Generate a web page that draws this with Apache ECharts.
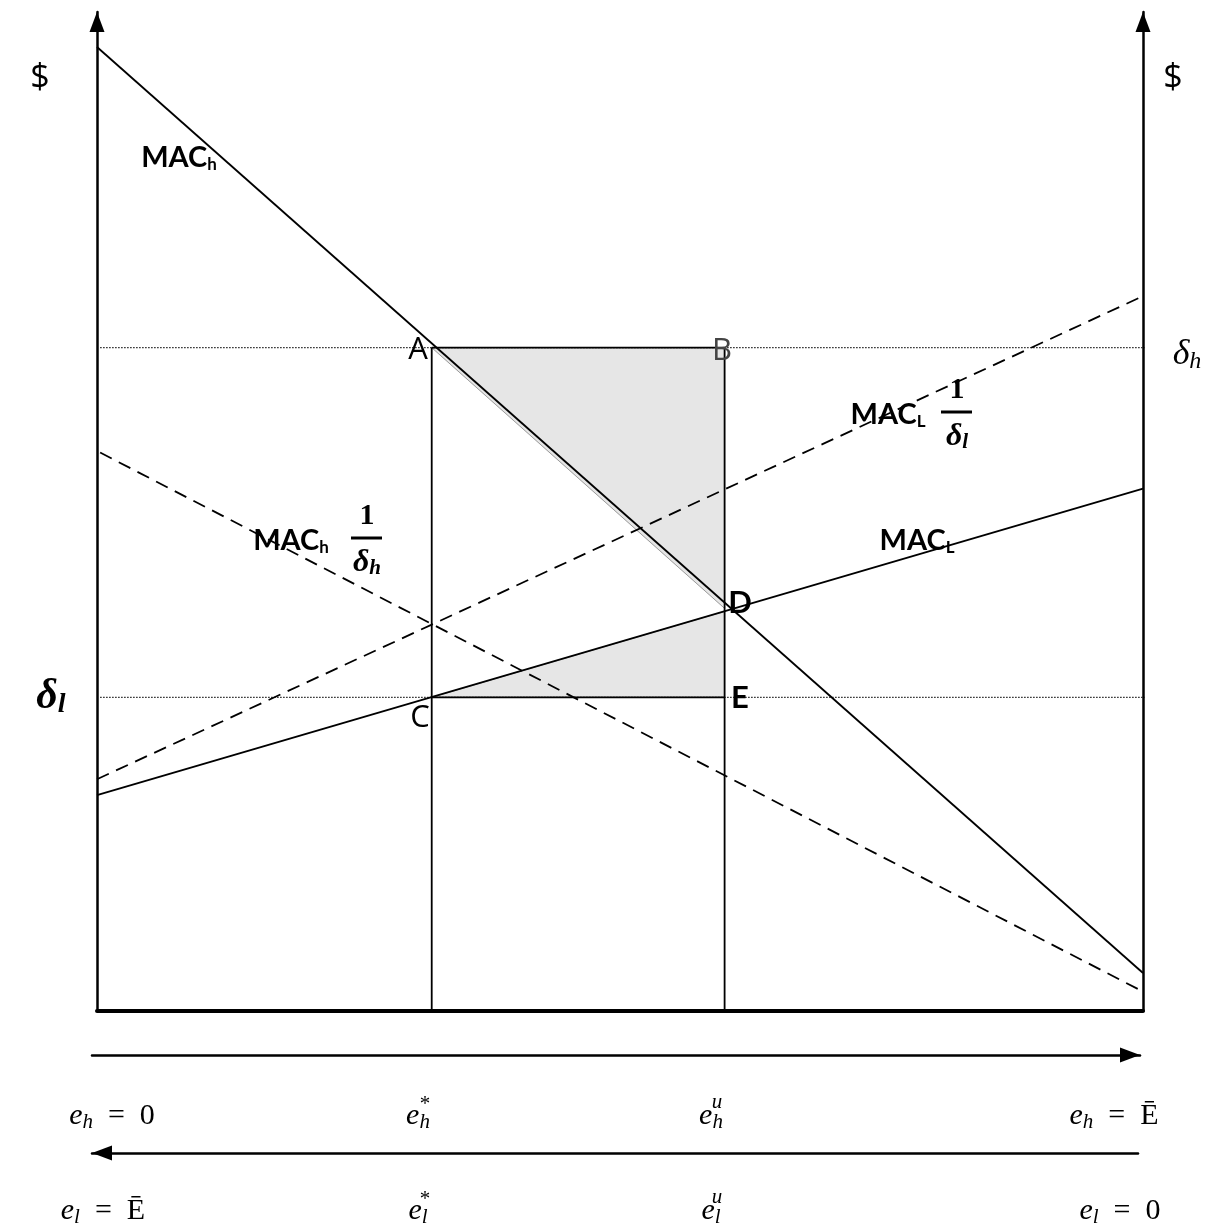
<!DOCTYPE html>
<html>
<head>
<meta charset="utf-8">
<script src="https://cdn.jsdelivr.net/npm/echarts@6/dist/echarts.min.js"></script>
<style>
html, body { margin: 0; padding: 0; background: #fff; }
#container { width: 1211px; height: 1232px; }
</style>
</head>
<body>
<div id="container"></div>
<script>
// positions along e_h axis (0 .. Ebar = 100)
var eStar = 32;
var eU = 60;
var deltaH = 66.4;
var deltaL = 31.4;

// curves, [e_h, $]
var macH = [[0, 96.5], [100, 3.8]];
var macL = [[0, 21.6], [100, 52.3]];
var macLOverDl = [[0, 23.2], [100.7, 71.9]];
var macHOverDh = [[0.3, 55.9], [99.7, 2.1]];

// shaded areas
var shadeABD = [[eStar, deltaH], [eU, deltaH], [eU, 40.3]];
var shadeCDE = [[eStar, deltaL], [eU, 40.0], [eU, deltaL]];
var shades = [shadeABD, shadeCDE];

var dom = document.getElementById('container');
var myChart = echarts.init(dom);

var serif = '"Liberation Serif", "DejaVu Serif", serif';
var sans = 'Lato, "Open Sans", sans-serif';

var mathRich = {
    i: { fontFamily: serif, fontStyle: 'italic', fontSize: 30, fill: '#000' },
    s: { fontFamily: serif, fontStyle: 'italic', fontSize: 21, padding: [13, 0, 0, 0], fill: '#000' },
    t: { fontFamily: serif, fontSize: 30, fill: '#000' }
};
var macRich = {
    m: { fontFamily: sans, fontWeight: 'bold', fontSize: 29, fill: '#000' },
    s: { fontFamily: sans, fontWeight: 'bold', fontSize: 17, padding: [13, 0, 0, 0], fill: '#000' }
};

function rt(x, y, text, rich, align) {
    return {
        type: 'text', z: 100,
        style: { x: x, y: y, text: text, rich: rich, align: align || 'center', verticalAlign: 'middle' }
    };
}
function plain(x, y, text, font, color) {
    return {
        type: 'text', z: 100,
        style: { x: x, y: y, text: text, font: font, fill: color || '#000', align: 'center', verticalAlign: 'middle' }
    };
}
function star(x, y, sup) {
    return plain(x, y, sup, 'italic 21px ' + serif);
}
function bar(x1, x2, y) {
    return { type: 'line', z: 100, shape: { x1: x1, y1: y, x2: x2, y2: y }, style: { stroke: '#000', lineWidth: 3 } };
}

var labelsH = ['{i|e}{s|h}{t|  =  0}', '{i|e}{s|h}', '{i|e}{s|h}', '{i|e}{s|h}{t|  =  Ē}'];
var labelsL = ['{i|e}{s|l}{t|  =  Ē}', '{i|e}{s|l}', '{i|e}{s|l}', '{i|e}{s|l}{t|  =  0}'];

var graphics = [
    plain(40, 78, '$', '34px "Open Sans", sans-serif'),
    plain(1173, 78, '$', '34px "Open Sans", sans-serif'),
    rt(179, 158, '{m|MAC}{s|h}', macRich),
    rt(888, 415, '{m|MAC}{s|L}', macRich),
    plain(957, 390, '1', 'bold 30px ' + serif),
    bar(941, 972, 412),
    rt(957, 437, '{d|δ}{s|l}', { d: { fontFamily: serif, fontStyle: 'italic', fontWeight: 'bold', fontSize: 32 }, s: { fontFamily: serif, fontStyle: 'italic', fontWeight: 'bold', fontSize: 21, padding: [12, 0, 0, 0] } }),
    rt(291, 541, '{m|MAC}{s|h}', macRich),
    plain(367, 516, '1', 'bold 30px ' + serif),
    bar(351, 382, 538),
    rt(367, 563, '{d|δ}{s|h}', { d: { fontFamily: serif, fontStyle: 'italic', fontWeight: 'bold', fontSize: 32 }, s: { fontFamily: serif, fontStyle: 'italic', fontWeight: 'bold', fontSize: 21, padding: [12, 0, 0, 0] } }),
    rt(917, 541, '{m|MAC}{s|L}', macRich),
    rt(1187, 355, '{d|δ}{s|h}', { d: { fontFamily: serif, fontStyle: 'italic', fontSize: 36 }, s: { fontFamily: serif, fontStyle: 'italic', fontSize: 24, padding: [13, 0, 0, 0] } }),
    rt(51, 697, '{d|δ}{s|l}', { d: { fontFamily: serif, fontStyle: 'italic', fontWeight: 'bold', fontSize: 42 }, s: { fontFamily: serif, fontStyle: 'italic', fontWeight: 'bold', fontSize: 28, padding: [15, 0, 0, 0] } }),
    plain(418, 350, 'A', '31px "Open Sans", sans-serif'),
    plain(722, 351, 'B', '31px "Open Sans", sans-serif', '#444'),
    plain(420, 718, 'C', '31px "Open Sans", sans-serif'),
    plain(740, 603, 'D', 'bold 31px ' + sans),
    plain(740, 698, 'E', 'bold 31px ' + sans),
    rt(112, 1116, labelsH[0], mathRich),
    rt(418, 1116, labelsH[1], mathRich),
    star(424, 1104, '*'),
    rt(711, 1116, labelsH[2], mathRich),
    star(717, 1102, 'u'),
    rt(1114, 1116, labelsH[3], mathRich),
    rt(103, 1211, labelsL[0], mathRich),
    rt(418, 1211, labelsL[1], mathRich),
    star(424, 1199, '*'),
    rt(711, 1211, labelsL[2], mathRich),
    star(717, 1197, 'u'),
    rt(1120, 1211, labelsL[3], mathRich)
];

function lineSeries(data, type) {
    var s = {
        type: 'line', data: data, symbol: 'none', clip: false, silent: true,
        lineStyle: { color: '#000', width: 1.8, type: 'solid' }
    };
    if (type === 'dashed') s.lineStyle.type = [13, 8];
    if (type === 'dotted') { s.lineStyle.type = [1.5, 1.5]; s.lineStyle.width = 1.3; s.lineStyle.color = '#222'; }
    return s;
}

function arrowLine(sym, offset, width) {
    return {
        show: true,
        onZero: false,
        symbol: sym,
        symbolSize: [15, 20],
        symbolOffset: offset,
        lineStyle: { color: '#000', width: width }
    };
}

var hidden = { axisTick: { show: false }, axisLabel: { show: false }, splitLine: { show: false } };

option = {
    backgroundColor: '#fff',
    animation: false,
    grid: [
        { left: 97, top: 12, width: 1046, height: 999 },
        { left: 92, top: 1055, width: 1048, height: 0 },
        { left: 92, top: 1153, width: 1046, height: 0 }
    ],
    xAxis: [
        Object.assign({
            gridIndex: 0, type: 'value', min: 0, max: 100,
            axisLine: { show: true, onZero: false, lineStyle: { color: '#000', width: 4 } }
        }, hidden),
        Object.assign({
            gridIndex: 1, type: 'value', min: 0, max: 100,
            axisLine: arrowLine(['none', 'triangle'], [0, -10], 2.5)
        }, hidden),
        Object.assign({
            gridIndex: 2, type: 'value', min: 0, max: 100,
            axisLine: arrowLine(['triangle', 'none'], [10, 0], 2.5)
        }, hidden)
    ],
    yAxis: [
        Object.assign({
            gridIndex: 0, type: 'value', min: 0, max: 100, position: 'left',
            axisLine: arrowLine(['none', 'triangle'], [0, -10], 2.5)
        }, hidden),
        Object.assign({
            gridIndex: 0, type: 'value', min: 0, max: 100, position: 'right',
            axisLine: arrowLine(['none', 'triangle'], [0, -10], 2.5)
        }, hidden),
        { gridIndex: 1, show: false },
        { gridIndex: 2, show: false }
    ],
    graphic: graphics,
    series: [
        {
            type: 'custom', z: 1, silent: true,
            data: [0, 1],
            renderItem: function (params, api) {
                var pts = shades[params.dataIndex].map(function (p) { return api.coord(p); });
                return {
                    type: 'polygon', shape: { points: pts },
                    style: { fill: '#e6e6e6', stroke: '#9a9a9a', lineWidth: 1 }
                };
            }
        },
        lineSeries([[0.3, deltaH], [100.7, deltaH]], 'dotted'),
        lineSeries([[0.3, deltaL], [100.5, deltaL]], 'dotted'),
        lineSeries([[eStar, deltaH], [eU, deltaH]]),
        lineSeries([[eStar, deltaL], [eU, deltaL]]),
        lineSeries([[eStar, deltaH], [eStar, 0]]),
        lineSeries([[eU, deltaH], [eU, 0]]),
        lineSeries(macH),
        lineSeries(macL),
        lineSeries(macLOverDl, 'dashed'),
        lineSeries(macHOverDh, 'dashed')
    ]
};

if (option && typeof option === 'object') {
    myChart.setOption(option, true);
}
</script>
</body>
</html>
